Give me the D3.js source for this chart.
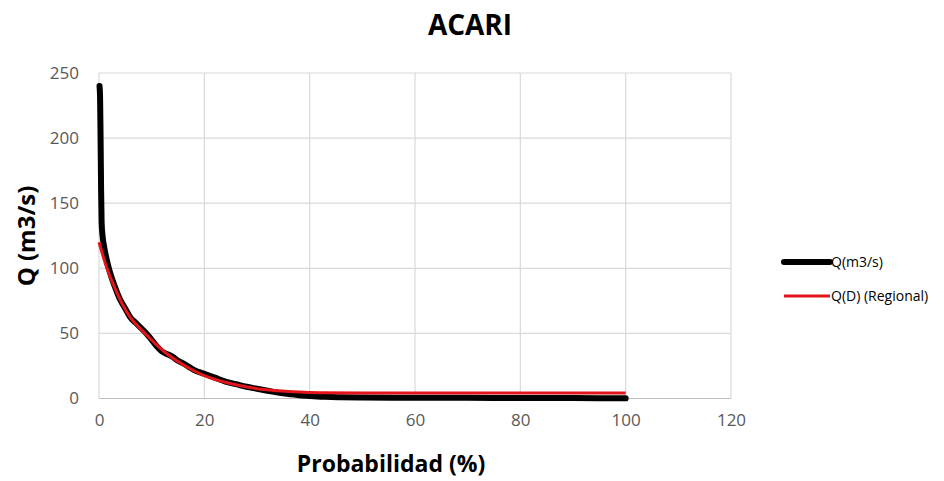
<!DOCTYPE html>
<html>
<head>
<meta charset="utf-8">
<script src="https://cdn.jsdelivr.net/npm/d3@7"></script>
<style>
  html, body { margin: 0; padding: 0; background: #fff; }
  svg { display: block; }
  text { font-family: "Open Sans", sans-serif; }
</style>
</head>
<body>
<svg id="chart" width="944" height="481"></svg>
<script>
// Flow duration curve, ACARI station
const chartTitle = "ACARI";
const xTicks = [0, 20, 40, 60, 80, 100, 120];
const yTicks = [0, 50, 100, 150, 200, 250];

// Observed discharge Q(m3/s) vs exceedance probability (%)
const obsProb = [0.1, 0.2, 0.3, 0.4, 0.5, 0.7, 1, 1.5, 2, 3, 4, 5, 6, 7, 8, 9, 10, 11, 12, 13, 14, 15, 16, 17, 18, 20, 22, 24, 26, 28, 30, 32, 34, 36, 38, 40, 43, 46, 50, 60, 70, 80, 90, 100];
const obsQ    = [240, 232, 200, 160, 135, 124, 116, 106, 98, 86, 76, 69, 62, 58, 54, 50, 45, 40, 36, 34, 32, 29, 27, 24.5, 22, 19, 16, 13, 11, 9, 7.5, 6, 4.5, 3.5, 2.5, 2, 1.3, 1, 0.8, 0.6, 0.5, 0.4, 0.3, 0.1];

// Regional model Q(D)
const regProb = [0, 1.5, 3, 4.5, 6, 7.5, 9, 11, 13, 15, 17.5, 20, 23, 26, 30, 34, 38, 42, 50, 100];
const regQ    = [120, 100, 85, 72, 62, 55, 49, 41, 34, 28.5, 22.5, 17.5, 13.5, 10.5, 7.5, 6, 5, 4.5, 4.2, 4.2];

const seriesNames = ["Q(m3/s)", "Q(D) (Regional)"];
const seriesColors = ["#000000", "#e4141b"];

const svg = d3.select("#chart");
const plot = { left: 99, right: 731, top: 73, bottom: 398.5 };

const x = d3.scaleLinear().domain([0, 120]).range([plot.left, plot.right]);
const y = d3.scaleLinear().domain([0, 250]).range([plot.bottom, plot.top]);

// Gridlines
const grid = svg.append("g");
grid.selectAll("line.v").data(xTicks).join("line")
  .attr("x1", d => x(d)).attr("x2", d => x(d))
  .attr("y1", plot.top).attr("y2", plot.bottom)
  .attr("stroke", "#d9d9d9").attr("stroke-width", 1.2);
grid.selectAll("line.h").data(yTicks).join("line")
  .attr("x1", plot.left).attr("x2", plot.right)
  .attr("y1", d => y(d)).attr("y2", d => y(d))
  .attr("stroke", d => d === 0 ? "#bfbfbf" : "#d9d9d9").attr("stroke-width", 1.2);

// Axes (labels only)
const xAxis = d3.axisBottom(x).tickValues(xTicks).tickSize(0).tickPadding(0);
const gx = svg.append("g").attr("transform", `translate(0,${plot.bottom + 22})`).call(xAxis);
gx.select(".domain").remove();
gx.selectAll("text").attr("font-size", 17).attr("fill", "#595959")
  .style("font-family", '"Open Sans", sans-serif').attr("dy", "0.35em");

const yAxis = d3.axisLeft(y).tickValues(yTicks).tickSize(0).tickPadding(0);
const gy = svg.append("g").attr("transform", `translate(${plot.left - 20},0)`).call(yAxis);
gy.select(".domain").remove();
gy.selectAll("text").attr("font-size", 17).attr("fill", "#595959")
  .style("font-family", '"Open Sans", sans-serif');

// Curves
const lineGen = d3.line().x(d => x(d[0])).y(d => y(d[1])).curve(d3.curveMonotoneX);
const obs = obsProb.map((p, i) => [p, obsQ[i]]);
const reg = regProb.map((p, i) => [p, regQ[i]]);

svg.append("path").datum(obs).attr("d", lineGen)
  .attr("fill", "none").attr("stroke", seriesColors[0]).attr("stroke-width", 6)
  .attr("stroke-linejoin", "round").attr("stroke-linecap", "round");
svg.append("path").datum(reg).attr("d", lineGen)
  .attr("fill", "none").attr("stroke", seriesColors[1]).attr("stroke-width", 3)
  .attr("stroke-linejoin", "round");

// Title and axis titles
svg.append("text").attr("x", 470).attr("y", 35).attr("text-anchor", "middle")
  .attr("font-size", 28).attr("font-weight", "bold").attr("fill", "#000").text(chartTitle);
svg.append("text").attr("x", 391).attr("y", 472).attr("text-anchor", "middle")
  .attr("font-size", 23).attr("font-weight", "bold").attr("fill", "#000").text("Probabilidad (%)");
svg.append("text").attr("transform", "translate(35,236) rotate(-90)").attr("text-anchor", "middle")
  .attr("font-size", 24).attr("font-weight", "bold").attr("fill", "#000").text("Q (m3/s)");

// Legend
const legend = svg.append("g");
const legY = [262, 296];
const legW = [6, 3];
seriesNames.forEach((name, i) => {
  legend.append("line").attr("x1", 784).attr("x2", 830).attr("y1", legY[i]).attr("y2", legY[i])
    .attr("stroke", seriesColors[i]).attr("stroke-width", legW[i]).attr("stroke-linecap", i === 0 ? "round" : "butt");
  legend.append("text").attr("x", 831).attr("y", legY[i]).attr("dy", "0.35em")
    .attr("font-size", 14).attr("fill", "#000").text(name);
});
</script>
</body>
</html>
